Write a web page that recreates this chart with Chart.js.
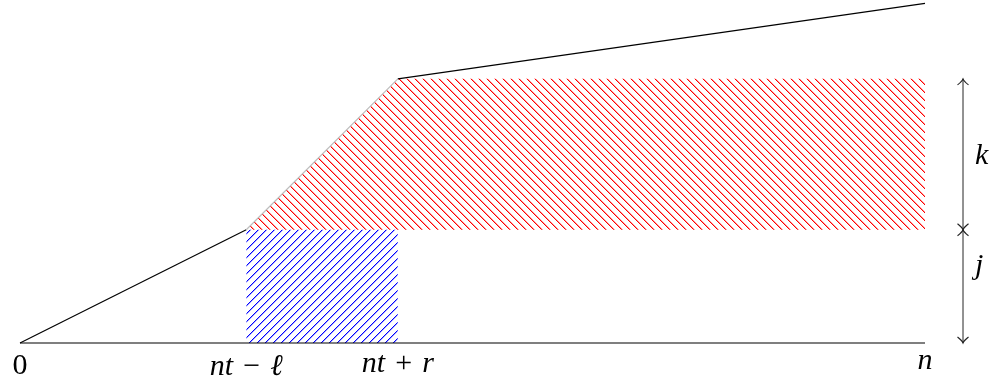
<!DOCTYPE html>
<html>
<head>
<meta charset="utf-8">
<script src="https://cdn.jsdelivr.net/npm/chart.js@4/dist/chart.umd.min.js"></script>
<style>
  html, body { margin: 0; padding: 0; background: #fff; }
</style>
</head>
<body>
<canvas id="c" width="998" height="387"></canvas>
<script>
// positions on the horizontal axis (0 .. n = 100)
const tickValues = [0, 25, 41.75, 100];
const tickLabels = ['0', 'nt − ℓ', 'nt + r', 'n'];

// the broken profile line
const profileX = [0, 25, 41.75, 100];
const profileY = [0, 3, 7, 9];

// red hatched block (upper edge, filled down to redBase)
const redX = [25, 41.75, 100];
const redY = [3, 7, 7];
const redBase = 3;

// blue hatched block (upper edge, filled down to 0)
const blueX = [25, 41.75];
const blueY = [3, 3];

// the measuring arrows on the right
const braceX = 104.2;
const braceFrom = [0, 3];
const braceTo = [3, 7];
const braceLabels = ['j', 'k'];
const braceLabelY = [2, 5];

const pts = (xs, ys) => xs.map((v, i) => ({ x: v, y: ys[i] }));

// diagonal hatch tile, drawn pixel by pixel so it stays crisp
function hatch(color, soft, dir) {
  const s = 8;
  const c = document.createElement('canvas');
  c.width = s; c.height = s;
  const g = c.getContext('2d');
  for (let i = 0; i < s; i++) {
    const px = dir === 'nw' ? i : s - 1 - i;
    g.fillStyle = color;
    g.fillRect(px, i, 1, 1);
    g.fillStyle = soft;
    g.fillRect((px + 1) % s, i, 1, 1);
  }
  return g.createPattern(c, 'repeat');
}

const overlay = {
  id: 'overlay',
  afterDraw(chart) {
    const { ctx, scales: { x, y } } = chart;
    ctx.save();
    ctx.fillStyle = '#000';

    // tick labels under the axis
    tickValues.forEach((v, i) => {
      drawMath(ctx, tickLabels[i], x.getPixelForValue(v), 355, 'top');
    });

    // arrows
    const ax = x.getPixelForValue(braceX);
    ctx.strokeStyle = '#777';
    ctx.lineWidth = 1.6;
    ctx.beginPath();
    ctx.moveTo(ax, y.getPixelForValue(Math.min(...braceFrom)));
    ctx.lineTo(ax, y.getPixelForValue(Math.max(...braceTo)));
    ctx.stroke();

    ctx.strokeStyle = '#222';
    ctx.lineWidth = 1.1;
    braceFrom.forEach((f, i) => {
      head(ctx, ax, y.getPixelForValue(f), 1);
      head(ctx, ax, y.getPixelForValue(braceTo[i]), -1);
      drawMath(ctx, braceLabels[i], 975, y.getPixelForValue(braceLabelY[i]), 'left');
    });
    ctx.restore();
  }
};

function head(ctx, px, py, dir) {
  ctx.beginPath();
  ctx.moveTo(px - 5.5, py - dir * 6);
  ctx.quadraticCurveTo(px - 1, py - dir * 2.5, px, py);
  ctx.quadraticCurveTo(px + 1, py - dir * 2.5, px + 5.5, py - dir * 6);
  ctx.stroke();
}

// letters in italic, everything else upright, like TeX math
function drawMath(ctx, text, px, py, mode) {
  const size = 30;
  const font = it => (it ? 'italic ' : '') + size + 'px "Liberation Serif", "DejaVu Serif", serif';
  const runs = [];
  for (const ch of text) {
    const it = /[a-zℓ]/i.test(ch);
    const t = ch === ' ' ? '\u2004' : ch;
    if (runs.length && runs[runs.length - 1].it === it) runs[runs.length - 1].t += t;
    else runs.push({ t, it });
  }
  let w = 0, asc = 0, desc = 0;
  runs.forEach(r => {
    ctx.font = font(r.it);
    const m = ctx.measureText(r.t);
    r.w = m.width;
    w += m.width;
    asc = Math.max(asc, m.actualBoundingBoxAscent);
    desc = Math.max(desc, m.actualBoundingBoxDescent);
  });
  let sx, base;
  if (mode === 'top') { sx = px - w / 2; base = py + asc; }
  else { sx = px; base = py + (asc - desc) / 2; }
  ctx.textBaseline = 'alphabetic';
  ctx.textAlign = 'left';
  runs.forEach(r => {
    ctx.font = font(r.it);
    ctx.fillText(r.t, sx, base);
    sx += r.w;
  });
}

new Chart(document.getElementById('c'), {
  type: 'line',
  data: {
    datasets: [
      {
        data: pts(profileX, profileY),
        borderWidth: 1.2,
        borderColor: '#000',
        segment: { borderColor: c => c.p0DataIndex === 1 ? '#bdbdbd' : '#000' },
        pointRadius: 0,
        fill: false,
        order: 0
      },
      {
        data: pts([profileX[0], profileX[profileX.length - 1]], [0, 0]),
        borderWidth: 1.2,
        borderColor: '#000',
        pointRadius: 0,
        fill: false,
        order: 1
      },
      {
        data: pts(redX, redY),
        borderWidth: 0,
        borderColor: 'rgba(0,0,0,0)',
        backgroundColor: hatch('#ff0000', '#ff9999', 'nw'),
        pointRadius: 0,
        fill: { value: redBase },
        order: 2
      },
      {
        data: pts(blueX, blueY),
        borderWidth: 0,
        borderColor: 'rgba(0,0,0,0)',
        backgroundColor: hatch('#0000ff', '#a8a8ff', 'ne'),
        pointRadius: 0,
        fill: { value: 0 },
        order: 3
      }
    ]
  },
  options: {
    responsive: false,
    animation: false,
    devicePixelRatio: 1,
    clip: false,
    layout: { padding: { left: 20, right: 73, top: 0, bottom: 44 } },
    plugins: { legend: { display: false }, tooltip: { enabled: false } },
    scales: {
      x: { type: 'linear', min: 0, max: 100, display: false },
      y: { type: 'linear', min: 0, max: 9.09, display: false }
    }
  },
  plugins: [overlay]
});
</script>
</body>
</html>
